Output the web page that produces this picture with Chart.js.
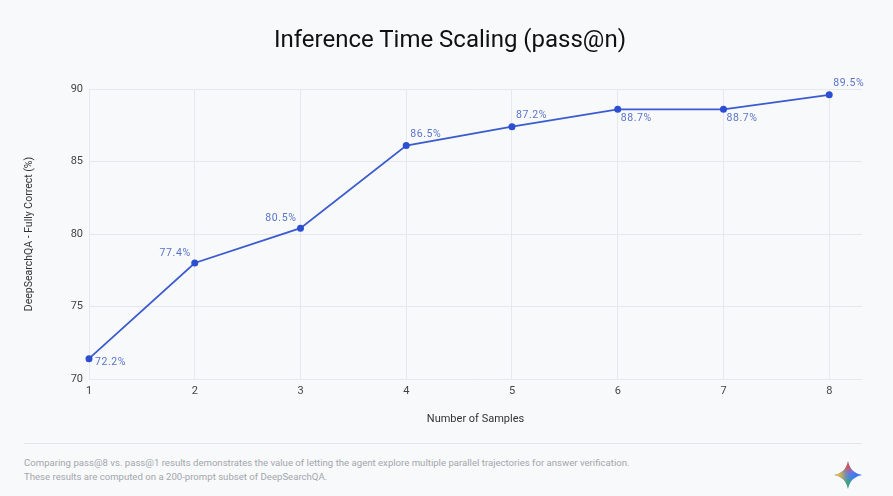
<!DOCTYPE html>
<html>
<head>
<meta charset="utf-8">
<script src="https://cdn.jsdelivr.net/npm/chart.js@4.4.0/dist/chart.umd.min.js"></script>
<style>
  html, body { margin: 0; padding: 0; background: #f8f9fb; }
  body { width: 893px; height: 496px; position: relative; overflow: hidden; font-family: Roboto, "Noto Sans", sans-serif; }
  #c { position: absolute; left: 0; top: 0; }
  #title { position: absolute; left: 0; width: 900px; top: 25px; line-height: 28px; font-size: 24px; color: #111111; text-align: center; white-space: nowrap; }
  #sep { position: absolute; left: 24px; top: 443px; width: 838px; height: 1px; background: #e3e5e9; }
  .foot { position: absolute; left: 24px; font-size: 9.6px; color: #a3a6ab; white-space: nowrap; letter-spacing: 0; }
  #logo { position: absolute; left: 834px; top: 461px; width: 28px; height: 28px; }
</style>
</head>
<body>
<canvas id="c" width="893" height="440"></canvas>
<div id="title">Inference Time Scaling (pass@n)</div>
<div id="sep"></div>
<div class="foot" id="f1" style="top:457px">Comparing pass@8 vs. pass@1 results demonstrates the value of letting the agent explore multiple parallel trajectories for answer verification.</div>
<div class="foot" id="f2" style="top:471px">These results are computed on a 200-prompt subset of DeepSearchQA.</div>
<svg id="logo" viewBox="0 0 28 28">
  <defs>
    <clipPath id="star">
      <path d="M14 0 C14.8 7.2 20.8 13.2 28 14 C20.8 14.8 14.8 20.8 14 28 C13.2 20.8 7.2 14.8 0 14 C7.2 13.2 13.2 7.2 14 0 Z"/>
    </clipPath>
    <filter id="bl" x="-50%" y="-50%" width="200%" height="200%"><feGaussianBlur stdDeviation="3"/></filter>
  </defs>
  <g clip-path="url(#star)">
    <rect x="0" y="0" width="28" height="28" fill="#3f7bf0"/>
    <g filter="url(#bl)">
      <circle cx="14" cy="3" r="7" fill="#ee4a3a"/>
      <circle cx="3" cy="14" r="7" fill="#f6c120"/>
      <circle cx="25" cy="14" r="7" fill="#3b74f2"/>
      <circle cx="14" cy="25" r="7" fill="#2fae5b"/>
    </g>
  </g>
</svg>
<script>
const sampleCounts = [1, 2, 3, 4, 5, 6, 7, 8];
const fullyCorrect = [71.4, 78.0, 80.4, 86.1, 87.4, 88.6, 88.6, 89.6];
const pointLabels = ['72.2%', '77.4%', '80.5%', '86.5%', '87.2%', '88.7%', '88.7%', '89.5%'];
const yTicks = [70, 75, 80, 85, 90];

const labelPlacement = ['right', 'leftAbove', 'leftAbove', 'rightAbove', 'rightAbove', 'rightBelow', 'rightBelow', 'rightAbove'];
const placementStyles = {
  right:      { dx: 6,  dy: 4,   align: 'left' },
  leftAbove:  { dx: -4, dy: -9.5, align: 'right' },
  rightAbove: { dx: 4,  dy: -11.5, align: 'left' },
  rightBelow: { dx: 3,  dy: 9,   align: 'left' }
};

const pointLabelPlugin = {
  id: 'pointLabels',
  afterDraw(chart) {
    const ctx = chart.ctx;
    const meta = chart.getDatasetMeta(0);
    ctx.save();
    ctx.font = '10.5px Roboto';
    if ('letterSpacing' in ctx) ctx.letterSpacing = '0.6px';
    ctx.fillStyle = '#5a74c8';
    ctx.textBaseline = 'middle';
    meta.data.forEach((pt, i) => {
      const s = placementStyles[labelPlacement[i]];
      ctx.textAlign = s.align;
      ctx.fillText(pointLabels[i], pt.x + s.dx, pt.y + s.dy);
    });
    ctx.restore();
  }
};

new Chart(document.getElementById('c'), {
  type: 'line',
  data: {
    datasets: [{
      data: sampleCounts.map((x, i) => ({ x: x, y: fullyCorrect[i] })),
      borderColor: '#3b5bcf',
      backgroundColor: '#2c4fd2',
      borderWidth: 1.8,
      pointRadius: 3.5,
      pointHoverRadius: 3.5,
      pointBorderWidth: 0,
      tension: 0,
      clip: false
    }]
  },
  options: {
    responsive: false,
    animation: false,
    layout: { padding: { left: 23.4, right: 31, top: 89, bottom: 14.4 } },
    plugins: {
      legend: { display: false },
      tooltip: { enabled: false },
      title: { display: false }
    },
    scales: {
      x: {
        type: 'linear',
        min: 1,
        max: 8.31,
        afterFit(scale) { scale.height = 46.6; },
        ticks: {
          stepSize: 1,
          includeBounds: false,
          padding: 6,
          color: '#444444',
          font: { family: 'Roboto', size: 11 },
          maxRotation: 0
        },
        grid: { color: '#e6e8ec', drawTicks: false },
        border: { display: false },
        title: {
          display: true,
          text: 'Number of Samples',
          color: '#333333',
          font: { family: 'Roboto', size: 11 },
          padding: 0
        }
      },
      y: {
        min: 70,
        max: 90,
        afterFit(scale) { scale.width = 65.6; },
        afterBuildTicks(scale) { scale.ticks = yTicks.map(v => ({ value: v })); },
        ticks: {
          padding: 6,
          color: '#444444',
          font: { family: 'Roboto', size: 11 }
        },
        grid: { color: '#e6e8ec', drawTicks: false },
        border: { display: false },
        title: {
          display: true,
          text: 'DeepSearchQA - Fully Correct (%)',
          color: '#333333',
          font: { family: 'Roboto', size: 10.5 },
          padding: 0
        }
      }
    }
  },
  plugins: [pointLabelPlugin]
});
</script>
</body>
</html>
